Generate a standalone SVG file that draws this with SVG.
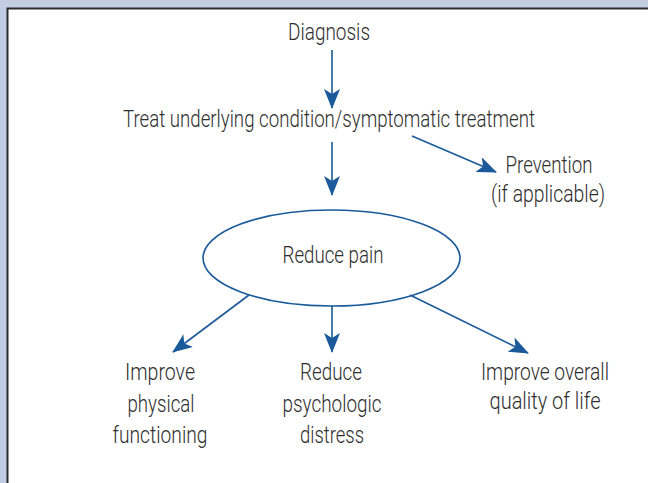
<svg xmlns="http://www.w3.org/2000/svg" width="648" height="483" viewBox="0 0 648 483">
<style>
text{font-family:Roboto,"Liberation Sans",sans-serif;font-size:23px;font-weight:300;fill:#2e2e2e;text-anchor:middle}
.c{stroke:#1a5a9a;stroke-width:1.6;fill:none}
</style>
<defs>
<marker id="ah" markerUnits="userSpaceOnUse" markerWidth="20" markerHeight="16" refX="19" refY="8" orient="auto" viewBox="0 0 20 16">
<path d="M0,0 L20,8 L0,16 L5,8 z" fill="#1a5a9a"/>
</marker>
</defs>
<rect x="0" y="0" width="648" height="483" fill="#c2cde4"/>
<rect x="8" y="9" width="650" height="490" fill="#fff"/>
<path d="M7.5,483 V8.5 H648" stroke="#2a2a2a" stroke-width="2" fill="none"/>
<g id="connectors">
<line class="c" x1="332" y1="50" x2="332" y2="108" marker-end="url(#ah)"/>
<line class="c" x1="332" y1="142" x2="332" y2="195" marker-end="url(#ah)"/>
<line class="c" x1="412" y1="136" x2="496" y2="172" marker-end="url(#ah)"/>
<line class="c" x1="249" y1="295" x2="173" y2="352" marker-end="url(#ah)"/>
<line class="c" x1="332" y1="306" x2="332" y2="352" marker-end="url(#ah)"/>
<line class="c" x1="410" y1="295" x2="528" y2="353" marker-end="url(#ah)"/>
</g>
<g id="diagnosis"><text x="329" y="40" textLength="82" lengthAdjust="spacingAndGlyphs">Diagnosis</text></g>
<g id="treat"><text x="329" y="127" textLength="412" lengthAdjust="spacingAndGlyphs">Treat underlying condition/symptomatic treatment</text></g>
<g id="prevention"><text x="549" y="173" textLength="87" lengthAdjust="spacingAndGlyphs">Prevention</text><text x="548" y="202" textLength="114" lengthAdjust="spacingAndGlyphs">(if applicable)</text></g>
<g id="reduce-pain"><ellipse class="c" cx="331.5" cy="258" rx="128.5" ry="48"/><text x="333" y="263" textLength="101" lengthAdjust="spacingAndGlyphs">Reduce pain</text></g>
<g id="improve-physical"><text x="160" y="380" textLength="70" lengthAdjust="spacingAndGlyphs">Improve</text><text x="161" y="412" textLength="67" lengthAdjust="spacingAndGlyphs">physical</text><text x="160" y="443" textLength="95" lengthAdjust="spacingAndGlyphs">functioning</text></g>
<g id="reduce-psych"><text x="331" y="380" textLength="62" lengthAdjust="spacingAndGlyphs">Reduce</text><text x="332" y="412" textLength="99" lengthAdjust="spacingAndGlyphs">psychologic</text><text x="332" y="443" textLength="64" lengthAdjust="spacingAndGlyphs">distress</text></g>
<g id="improve-overall"><text x="545" y="380" textLength="128" lengthAdjust="spacingAndGlyphs">Improve overall</text><text x="545" y="409" textLength="111" lengthAdjust="spacingAndGlyphs">quality of life</text></g>
</svg>
